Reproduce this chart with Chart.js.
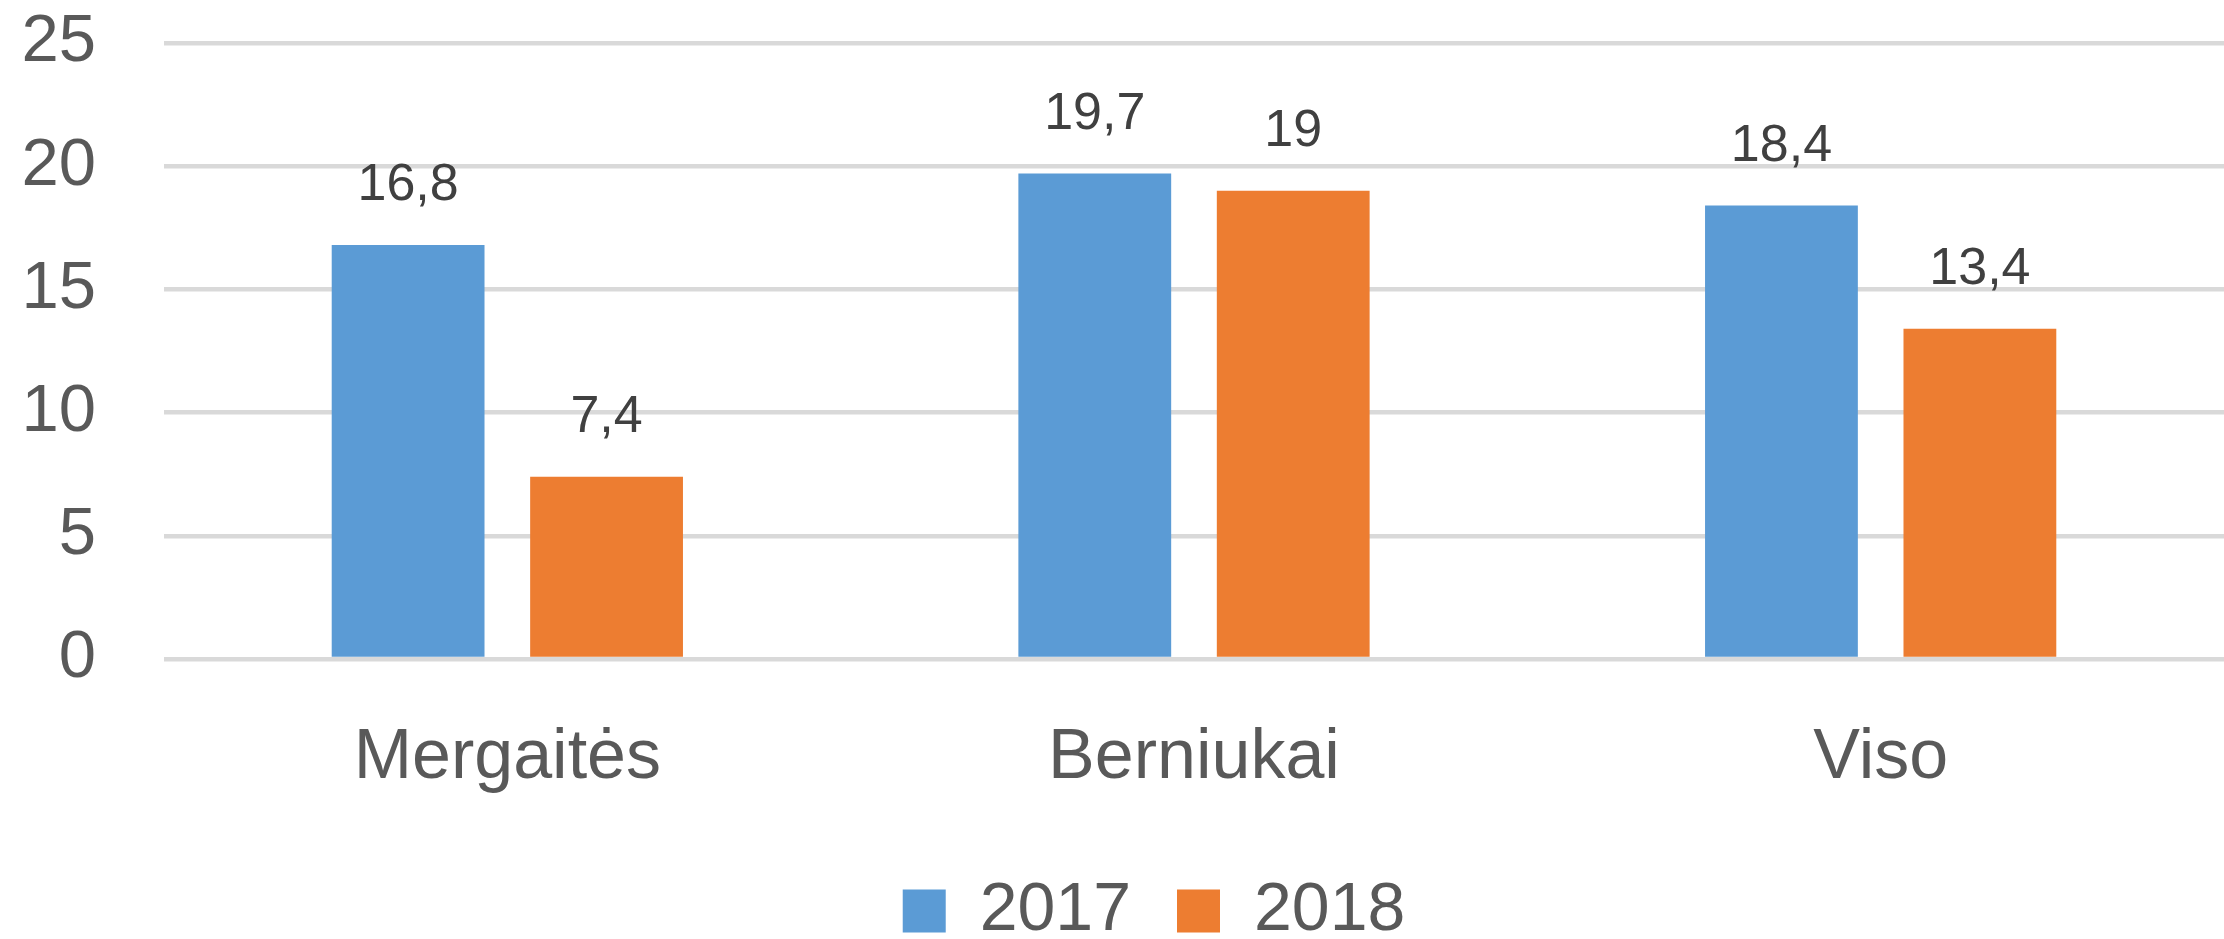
<!DOCTYPE html>
<html>
<head>
<meta charset="utf-8">
<script src="https://cdn.jsdelivr.net/npm/chart.js@4.4.0/dist/chart.umd.min.js"></script>
<style>
  html, body { margin: 0; padding: 0; background: #fff; }
  canvas { display: block; }
</style>
</head>
<body>
<canvas id="chart" width="2224" height="939"></canvas>
<script>
// values
const categories = ['Mergaitės', 'Berniukai', 'Viso'];
const seriesNames = ['2017', '2018'];
const values2017 = [16.8, 19.7, 18.4];
const values2018 = [7.4, 19, 13.4];
const yTicks = [0, 5, 10, 15, 20, 25];

const FONT = "'Liberation Sans', Arial, sans-serif";
const BLUE = '#5B9BD5';
const ORANGE = '#ED7D31';

// value labels above bars, decimal comma like the original
const barLabels = {
  id: 'barLabels',
  afterDatasetsDraw(chart) {
    const { ctx } = chart;
    ctx.save();
    ctx.font = '52px ' + FONT;
    ctx.fillStyle = '#404040';
    ctx.textAlign = 'center';
    ctx.textBaseline = 'alphabetic';
    chart.data.datasets.forEach((ds, i) => {
      chart.getDatasetMeta(i).data.forEach((bar, j) => {
        const txt = String(ds.data[j]).replace('.', ',');
        ctx.fillText(txt, bar.x, bar.y - 45);
      });
    });
    ctx.restore();
  },
};

// excel centres the legend a bit left of the plot centre
const legendShift = {
  id: 'legendShift',
  afterLayout(chart) {
    chart.legend.left -= 40;
    chart.legend.right -= 40;
  },
};

new Chart(document.getElementById('chart'), {
  type: 'bar',
  data: {
    labels: categories,
    datasets: [
      { label: seriesNames[0], data: values2017, backgroundColor: BLUE },
      { label: seriesNames[1], data: values2018, backgroundColor: ORANGE },
    ],
  },
  plugins: [barLabels, legendShift],
  options: {
    responsive: false,
    animation: false,
    devicePixelRatio: 1,
    categoryPercentage: 0.578,
    barPercentage: 0.77,
    layout: { padding: { top: 43, left: 0, right: 0, bottom: -16 } },
    plugins: {
      tooltip: { enabled: false },
      legend: {
        position: 'bottom',
        fullSize: false,
        labels: {
          boxWidth: 43,
          boxHeight: 43,
          padding: 46,
          color: '#595959',
          font: { size: 68, family: FONT },
        },
      },
    },
    scales: {
      x: {
        grid: { display: false, drawTicks: false },
        border: { display: false },
        ticks: {
          padding: 58,
          color: '#595959',
          font: { size: 70, family: FONT },
        },
        afterFit(scale) { scale.height = 172; },
      },
      y: {
        min: 0,
        max: 25,
        afterBuildTicks(scale) { scale.ticks = yTicks.map((v) => ({ value: v })); },
        grid: { color: '#d9d9d9', lineWidth: 4.5, drawTicks: false },
        border: { display: false },
        ticks: {
          padding: 68,
          color: '#595959',
          font: { size: 67, family: FONT },
        },
        afterFit(scale) {
          scale.width = 164;
          scale.paddingTop = 0;
          scale.paddingBottom = 0;
        },
      },
    },
  },
});
</script>
</body>
</html>
